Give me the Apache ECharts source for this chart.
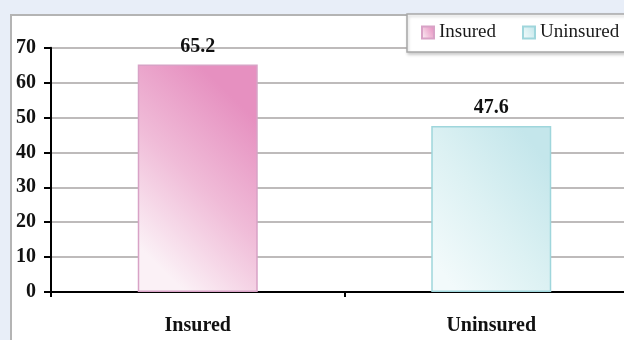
<!DOCTYPE html>
<html>
<head>
<meta charset="utf-8">
<script src="https://cdn.jsdelivr.net/npm/echarts@6/dist/echarts.min.js"></script>
<style>
  html, body { margin: 0; padding: 0; background: #e8eef8; overflow: hidden; }
  /* the drawing surface runs a little past the right edge of the window */
  #chart { width: 644px; height: 340px; }
</style>
</head>
<body>
<div id="chart"></div>
<script>
// Share of people (%) by insurance status
const categories = ['Insured', 'Uninsured'];
const seriesNames = ['Insured', 'Uninsured'];
const insuredValues = [65.2, '-'];
const uninsuredValues = ['-', 47.6];
const yTicks = [0, 10, 20, 30, 40, 50, 60, 70];

const SERIF = '"Liberation Serif", "Times New Roman", serif';

// light at the lower left, deepening towards the upper right
function diagonal(light, mid, dark) {
  return new echarts.graphic.LinearGradient(0, 0.8, 1, 0.25, [
    { offset: 0, color: light },
    { offset: 0.5, color: mid },
    { offset: 1, color: dark }
  ]);
}

const labelStyle = {
  show: true,
  position: 'top',
  distance: 8,
  fontFamily: SERIF,
  fontWeight: 'bold',
  fontSize: 20,
  color: '#111'
};

const chart = echarts.init(document.getElementById('chart'), null, { renderer: 'canvas' });

chart.setOption({
  backgroundColor: '#e8eef8',
  animation: false,
  graphic: [{
    type: 'rect',
    z: -10,
    silent: true,
    shape: { x: 11, y: 15, width: 700, height: 400 },
    style: { fill: '#ffffff', stroke: '#b4b4b4', lineWidth: 2 }
  }],
  legend: {
    data: seriesNames,
    orient: 'horizontal',
    left: 407,
    top: 14,
    width: 400,
    icon: 'rect',
    itemWidth: 12,
    itemHeight: 12,
    itemGap: 26,
    padding: [9, 40, 10, 14],
    backgroundColor: '#ffffff',
    borderColor: '#a8a8a8',
    borderWidth: 1.5,
    shadowColor: 'rgba(0,0,0,0.18)',
    shadowBlur: 3,
    shadowOffsetX: 1,
    shadowOffsetY: 2,
    textStyle: { fontFamily: SERIF, fontSize: 19, color: '#1a1a1a' }
  },
  grid: { left: 51, top: 47.7, right: 6, height: 244.3 },
  xAxis: {
    type: 'category',
    data: categories,
    boundaryGap: true,
    axisLine: { lineStyle: { color: '#000', width: 2 } },
    axisTick: { show: true, length: 5, interval: 0, lineStyle: { color: '#000', width: 2 } },
    axisLabel: {
      margin: 24,
      interval: 0,
      fontFamily: SERIF,
      fontWeight: 'bold',
      fontSize: 20,
      color: '#111'
    }
  },
  yAxis: {
    type: 'value',
    min: yTicks[0],
    max: yTicks[yTicks.length - 1],
    interval: yTicks[1] - yTicks[0],
    axisLine: { show: true, lineStyle: { color: '#000', width: 2 } },
    axisTick: { show: true, length: 7, lineStyle: { color: '#000', width: 2 } },
    axisLabel: {
      margin: 15,
      fontFamily: SERIF,
      fontWeight: 'bold',
      fontSize: 20,
      color: '#111'
    },
    splitLine: { show: true, lineStyle: { color: '#a8a4a4', width: 1.5 } }
  },
  series: [
    {
      name: seriesNames[0],
      type: 'bar',
      data: insuredValues,
      barWidth: 120,
      barGap: '-100%',
      itemStyle: {
        color: diagonal('#fbf1f6', '#f0bcd8', '#e690c0'),
        borderColor: '#d8a2c6',
        borderWidth: 1.5
      },
      label: labelStyle
    },
    {
      name: seriesNames[1],
      type: 'bar',
      data: uninsuredValues,
      barWidth: 120,
      itemStyle: {
        color: diagonal('#f2fafb', '#dcf1f3', '#c4e6eb'),
        borderColor: '#9fd6dc',
        borderWidth: 1.5
      },
      label: labelStyle
    }
  ]
});
</script>
</body>
</html>
